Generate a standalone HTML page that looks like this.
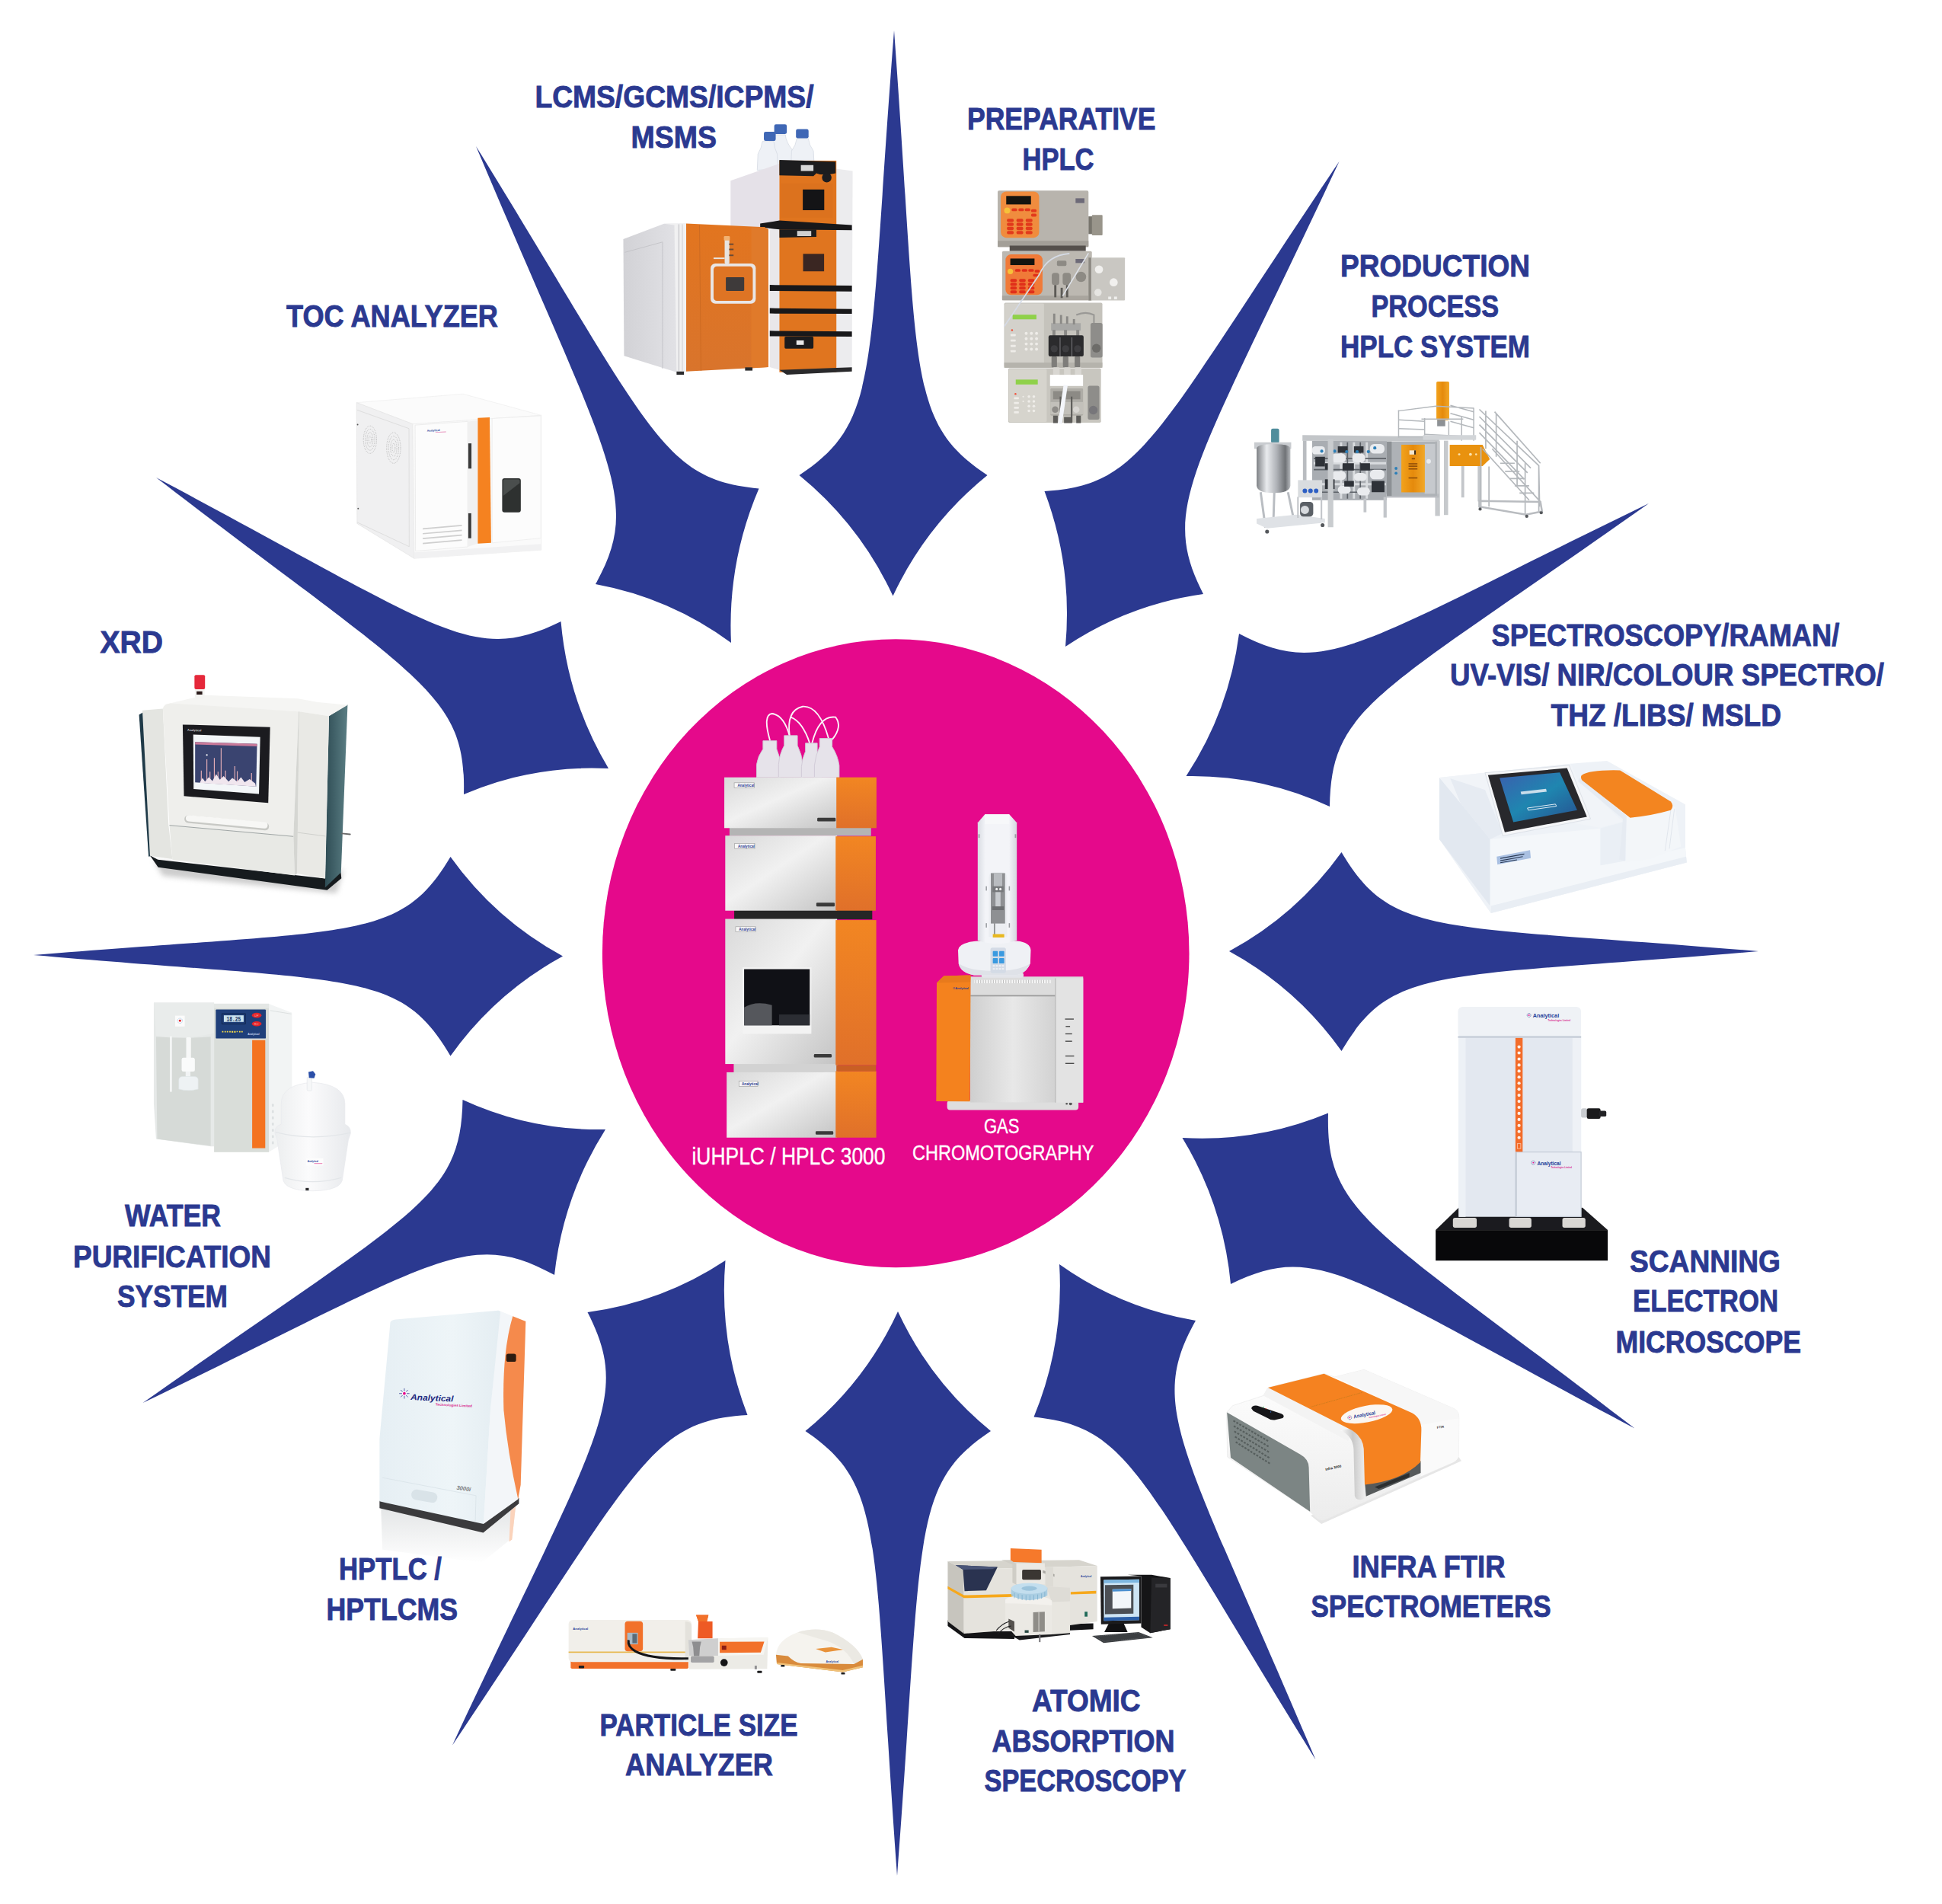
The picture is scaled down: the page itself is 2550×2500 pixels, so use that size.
<!DOCTYPE html>
<html lang="en"><head><meta charset="utf-8"><title>Analytical instruments</title>
<style>html,body{margin:0;padding:0;background:#fff}body{width:2550px;height:2500px;overflow:hidden}svg{display:block}.t{font-family:"Liberation Sans",sans-serif;font-weight:700;font-size:41.5px;fill:#2b3990;stroke:#2b3990;stroke-width:.9px}.w{font-family:"Liberation Sans",sans-serif;font-weight:400;fill:#fff;stroke:#fff;stroke-width:.4px}</style></head><body>
<svg width="2550" height="2500" viewBox="0 0 2550 2500">
<rect width="2550" height="2500" fill="#fff"/>
<g fill="#2b3990">
<path d="M1174.0 40.0 C1207.4 492.2 1189.1 552.2 1296.5 624.0 Q1216.3 689.0 1172.5 782.5 Q1129.2 689.1 1049.5 624.0 C1156.8 552.5 1138.9 492.5 1174.0 40.0Z"/>
<path d="M1758.5 212.0 C1566.7 621.7 1521.5 664.9 1580.0 780.0 Q1481.6 793.7 1399.0 849.0 Q1408.7 743.8 1371.5 645.0 C1499.7 637.4 1512.5 577.8 1758.5 212.0Z"/>
<path d="M2165.0 661.0 C1807.6 913.5 1748.1 926.5 1746.0 1059.0 Q1656.3 1017.3 1557.5 1019.0 Q1613.8 933.5 1627.0 832.0 C1740.7 891.9 1780.0 847.4 2165.0 661.0Z"/>
<path d="M2309.0 1249.0 C1884.9 1285.3 1828.7 1266.1 1761.5 1380.0 Q1702.8 1297.5 1614.0 1249.0 Q1702.7 1201.0 1761.5 1119.0 C1828.7 1232.0 1884.9 1212.9 2309.0 1249.0Z"/>
<path d="M2146.5 1875.5 C1769.8 1675.5 1732.4 1629.3 1616.0 1686.0 Q1606.3 1582.7 1552.5 1494.0 Q1652.0 1499.8 1744.0 1461.5 C1740.6 1594.5 1799.6 1609.5 2146.5 1875.5Z"/>
<path d="M1727.5 2310.5 C1494.7 1934.1 1483.7 1873.9 1357.5 1860.5 Q1397.3 1764.1 1391.0 1660.0 Q1472.0 1717.6 1570.0 1734.0 C1506.5 1847.6 1550.3 1892.5 1727.5 2310.5Z"/>
<path d="M1178.0 2463.0 C1145.0 2010.7 1162.8 1950.8 1057.5 1879.0 Q1136.3 1814.5 1179.0 1722.0 Q1221.9 1814.5 1301.0 1879.0 C1194.7 1950.5 1212.5 2010.6 1178.0 2463.0Z"/>
<path d="M594.0 2291.5 C785.4 1881.5 830.6 1838.3 771.5 1723.0 Q869.8 1709.8 952.5 1655.0 Q943.7 1759.8 981.5 1858.0 C852.7 1865.4 840.1 1925.2 594.0 2291.5Z"/>
<path d="M187.5 1842.0 C545.5 1588.9 604.9 1575.7 607.5 1444.0 Q696.8 1485.1 795.0 1483.0 Q739.5 1570.8 728.0 1674.0 C612.2 1610.8 573.2 1656.1 187.5 1842.0Z"/>
<path d="M44.0 1254.0 C468.0 1218.8 524.1 1238.0 591.5 1125.0 Q650.2 1207.2 739.0 1255.5 Q650.2 1304.0 591.5 1386.5 C524.5 1272.2 468.2 1291.3 44.0 1254.0Z"/>
<path d="M205.0 627.0 C582.1 827.1 619.4 873.5 736.5 816.0 Q745.6 919.7 799.0 1009.0 Q700.1 1004.1 609.0 1043.0 C612.5 909.5 553.3 894.3 205.0 627.0Z"/>
<path d="M625.0 192.0 C857.5 568.6 867.9 629.0 996.5 641.5 Q955.0 738.6 960.0 844.0 Q879.9 785.0 782.0 767.0 C844.5 654.4 801.1 609.4 625.0 192.0Z"/>
</g>
<ellipse cx="1176.2" cy="1251.8" rx="385.3" ry="412.5" fill="#e5098b"/>
<g transform="translate(800,140) scale(0.194286)">
<defs>
<linearGradient id="lc1" x1="0" y1="0" x2="1" y2="0"><stop offset="0" stop-color="#d2d2d6"/><stop offset="1" stop-color="#e4e4e8"/></linearGradient>
<linearGradient id="lc2" x1="0" y1="0" x2="0" y2="1"><stop offset="0" stop-color="#e2751f"/><stop offset="1" stop-color="#d9742c"/></linearGradient>
</defs>
<!-- bottles -->
<g fill="#eef1f6" stroke="#d4d9e2" stroke-width="4">
<path d="M1095 190 Q1090 240 1050 290 L1040 430 L1240 430 L1235 290 Q1195 240 1190 190Z"/>
<path d="M1035 235 Q1030 280 1005 320 L1000 430 L1140 420 L1135 320 Q1115 280 1112 235Z"/>
<path d="M1268 215 Q1262 260 1232 300 L1228 400 L1385 400 L1380 300 Q1350 260 1345 215Z"/>
</g>
<rect x="1115" y="120" width="85" height="65" rx="12" fill="#3f67b5"/>
<rect x="1045" y="170" width="80" height="62" rx="12" fill="#3f67b5"/>
<rect x="1262" y="152" width="85" height="62" rx="12" fill="#3f67b5"/>
<!-- LC stack left white side -->
<path d="M820 500 L1150 385 L1150 830 L820 810Z" fill="#e5e1e8"/>
<path d="M1085 830 L1150 830 L1150 1780 L1085 1760Z" fill="#e9e7ea"/>
<!-- LC stack right white side -->
<path d="M1530 420 L1645 435 L1640 1770 L1530 1795Z" fill="#ececee"/>
<!-- LC orange modules -->
<rect x="1150" y="365" width="385" height="1430" fill="#e0751f"/>
<rect x="1160" y="520" width="350" height="230" fill="#d96f1e" opacity=".6"/>
<path d="M1150 360 L1530 372 L1530 450 Q1440 470 1400 450 L1380 470 L1150 465Z" fill="#1c1c1e"/>
<rect x="1295" y="395" width="85" height="40" fill="#d8d8d8"/>
<circle cx="1470" cy="480" r="32" fill="#1d1d20"/>
<rect x="1308" y="560" width="145" height="140" fill="#141416"/>
<path d="M1020 790 L1150 770 L1640 800 L1640 835 L1150 830 L1020 815Z" fill="#18181a"/>
<path d="M1150 830 L1400 830 L1400 880 L1150 885Z" fill="#1c1c1e"/>
<rect x="1270" y="840" width="95" height="35" fill="#cfcfcf"/>
<rect x="1310" y="995" width="142" height="118" fill="#3a2622"/>
<path d="M1085 1205 L1640 1210 L1640 1250 L1085 1245Z" fill="#18181a"/>
<path d="M1085 1362 L1640 1368 L1640 1400 L1085 1398Z" fill="#18181a"/>
<path d="M1085 1515 L1640 1520 L1640 1555 L1085 1552Z" fill="#18181a"/>
<rect x="1185" y="1555" width="195" height="80" rx="8" fill="#1b1b1d"/>
<rect x="1265" y="1580" width="50" height="30" fill="#e8e8e8"/>
<path d="M1150 1780 L1640 1762 L1640 1790 L1200 1812Z" fill="#2a2a2c"/>
<!-- MS unit -->
<path d="M95 895 L370 792 L520 790 L520 1790 L455 1795 L100 1685Z" fill="url(#lc1)"/>
<path d="M370 792 L520 790 L520 1790 L455 1795 L440 800Z" fill="#f1f1f2"/>
<path d="M105 985 L360 915 L360 1770" fill="none" stroke="#c4c4c8" stroke-width="5"/>
<rect x="465" y="795" width="10" height="990" fill="#d5d5d8"/>
<rect x="490" y="795" width="8" height="990" fill="#d9d9dc"/>
<path d="M520 790 L1050 815 L1075 830 L1075 1760 L520 1790Z" fill="url(#lc2)"/>
<path d="M960 815 L1050 815 L1075 830 L1075 1760 L960 1768Z" fill="#e07a2a"/>
<path d="M610 800 L620 1785" stroke="#cc6a22" stroke-width="5" fill="none"/>
<rect x="685" y="1060" width="305" height="272" rx="32" fill="#e9e6e6"/>
<rect x="705" y="1080" width="265" height="232" rx="22" fill="#de7424"/>
<rect x="788" y="1153" width="124" height="92" rx="6" fill="#3e3a3a"/>
<rect x="780" y="880" width="32" height="180" rx="8" fill="#e8e4e0"/>
<rect x="775" y="875" width="40" height="30" rx="6" fill="#f2b272"/>
<rect x="810" y="925" width="30" height="10" fill="#6a4a36"/><rect x="810" y="960" width="30" height="10" fill="#6a4a36"/><rect x="810" y="1000" width="30" height="10" fill="#6a4a36"/>
<rect x="705" y="1020" width="75" height="10" fill="#e8e4e0"/>
<rect x="455" y="1790" width="50" height="22" fill="#2a2a2c"/><rect x="918" y="1762" width="50" height="22" fill="#2a2a2c"/>
</g>
<g transform="translate(1290,235) scale(0.178571)">
<!-- module 1 -->
<rect x="112" y="85" width="668" height="415" rx="10" fill="#b8b4ad"/>
<rect x="112" y="455" width="668" height="45" fill="#a39f98"/>
<rect x="200" y="490" width="560" height="40" fill="#55504c"/>
<rect x="135" y="92" width="282" height="340" rx="40" fill="#f08c3e"/>
<rect x="175" y="125" width="182" height="62" fill="#15140f"/>
<circle cx="182" cy="232" r="22" fill="#f6c13a"/>
<g fill="#e23a1c">
<rect x="215" y="215" width="40" height="22" rx="9"/><rect x="265" y="215" width="40" height="22" rx="9"/><rect x="312" y="215" width="40" height="22" rx="9"/><rect x="358" y="222" width="40" height="22" rx="9"/><rect x="358" y="255" width="40" height="22" rx="9"/>
<rect x="180" y="292" width="50" height="24" rx="10"/><rect x="250" y="292" width="50" height="24" rx="10"/><rect x="318" y="292" width="50" height="24" rx="10"/>
<rect x="180" y="322" width="50" height="24" rx="10"/><rect x="250" y="322" width="50" height="24" rx="10"/><rect x="318" y="322" width="50" height="24" rx="10"/>
<rect x="180" y="352" width="50" height="24" rx="10"/><rect x="250" y="352" width="50" height="24" rx="10"/><rect x="318" y="352" width="50" height="24" rx="10"/>
<rect x="180" y="382" width="50" height="24" rx="10"/><rect x="250" y="382" width="50" height="24" rx="10"/><rect x="318" y="382" width="50" height="24" rx="10"/>
</g>
<rect x="685" y="142" width="65" height="35" fill="#6d6a78"/>
<rect x="780" y="275" width="30" height="130" fill="#77746c"/>
<rect x="805" y="265" width="78" height="150" rx="6" fill="#99958b"/>
<!-- module 2 -->
<rect x="145" y="530" width="660" height="362" rx="10" fill="#bcb8b1"/>
<rect x="145" y="858" width="660" height="34" fill="#a9a59e"/>
<rect x="780" y="578" width="268" height="315" rx="6" fill="#c9c7c2"/>
<rect x="780" y="578" width="20" height="315" fill="#8c8982"/>
<rect x="170" y="555" width="272" height="298" rx="40" fill="#f07a38"/>
<rect x="205" y="585" width="178" height="48" fill="#15140f"/>
<circle cx="205" cy="680" r="20" fill="#f6c13a"/>
<g fill="#e02f1a">
<rect x="240" y="662" width="40" height="20" rx="9"/><rect x="290" y="662" width="40" height="20" rx="9"/><rect x="338" y="662" width="40" height="20" rx="9"/><rect x="385" y="668" width="36" height="20" rx="9"/><rect x="372" y="698" width="40" height="20" rx="9"/>
<rect x="205" y="735" width="48" height="22" rx="10"/><rect x="270" y="735" width="48" height="22" rx="10"/><rect x="335" y="735" width="48" height="22" rx="10"/>
<rect x="205" y="763" width="48" height="22" rx="10"/><rect x="270" y="763" width="48" height="22" rx="10"/><rect x="335" y="763" width="48" height="22" rx="10"/>
<rect x="205" y="791" width="48" height="22" rx="10"/><rect x="270" y="791" width="48" height="22" rx="10"/><rect x="335" y="791" width="48" height="22" rx="10"/>
<rect x="205" y="819" width="48" height="22" rx="10"/><rect x="270" y="819" width="48" height="22" rx="10"/><rect x="335" y="819" width="48" height="22" rx="10"/>
</g>
<g fill="#8d8a84"><rect x="510" y="690" width="55" height="90" rx="20"/><rect x="590" y="690" width="60" height="90" rx="20"/><circle cx="725" cy="720" r="38"/><rect x="548" y="600" width="70" height="40" rx="10"/></g>
<g fill="#5c5a56"><rect x="528" y="780" width="16" height="90"/><rect x="575" y="800" width="16" height="75"/><rect x="615" y="780" width="16" height="90"/></g>
<rect x="685" y="588" width="65" height="30" fill="#6d6a78"/>
<circle cx="857" cy="665" r="30" fill="#f1f0ee"/><circle cx="965" cy="760" r="30" fill="#f1f0ee"/><circle cx="850" cy="835" r="27" fill="#e6e5e2"/>
<rect x="925" y="865" width="22" height="20" fill="#eeeeec"/><rect x="968" y="865" width="22" height="20" fill="#eeeeec"/>
<!-- module 3 -->
<rect x="160" y="910" width="722" height="478" rx="10" fill="#c5c3bc"/>
<rect x="165" y="915" width="288" height="468" rx="8" fill="#d3d1cb"/>
<rect x="160" y="1350" width="722" height="38" fill="#b5b3ac"/>
<rect x="222" y="998" width="175" height="34" fill="#8fd14a"/>
<g fill="#eeece8"><circle cx="322" cy="1135" r="11"/><circle cx="360" cy="1135" r="11"/><circle cx="398" cy="1135" r="11"/><circle cx="322" cy="1175" r="11"/><circle cx="360" cy="1175" r="11"/><circle cx="398" cy="1175" r="11"/><circle cx="322" cy="1213" r="11"/><circle cx="360" cy="1213" r="11"/><circle cx="398" cy="1213" r="11"/><circle cx="322" cy="1252" r="11"/><circle cx="360" cy="1252" r="11"/><circle cx="398" cy="1252" r="11"/>
<rect x="207" y="1140" width="38" height="16" rx="4"/><rect x="207" y="1180" width="38" height="16" rx="4"/><rect x="207" y="1220" width="38" height="16" rx="4"/><rect x="207" y="1258" width="38" height="16" rx="4"/></g>
<circle cx="218" cy="1112" r="7" fill="#f0503a"/>
<rect x="505" y="1060" width="218" height="55" fill="#a7a7a5"/>
<g fill="#8a8986"><rect x="520" y="990" width="16" height="75"/><rect x="570" y="1000" width="16" height="65"/><rect x="615" y="1010" width="16" height="55"/><rect x="665" y="1030" width="16" height="40"/><rect x="515" y="1110" width="22" height="60"/><rect x="600" y="1110" width="22" height="60"/><rect x="690" y="1110" width="22" height="60"/></g>
<path d="M690 1000 Q760 970 820 1000 L820 1060" fill="none" stroke="#9a9996" stroke-width="12"/>
<rect x="486" y="1150" width="258" height="155" rx="12" fill="#2b2b2d"/>
<rect x="568" y="1165" width="6" height="140" fill="#77767a"/><rect x="655" y="1165" width="6" height="140" fill="#77767a"/>
<circle cx="528" cy="1248" r="26" fill="#3d3d40"/><circle cx="612" cy="1248" r="26" fill="#3d3d40"/><circle cx="700" cy="1248" r="26" fill="#3d3d40"/>
<g fill="#7e7d7a"><rect x="508" y="1305" width="40" height="80" rx="8"/><rect x="592" y="1305" width="40" height="80" rx="8"/><rect x="678" y="1305" width="40" height="80" rx="8"/></g>
<rect x="795" y="1058" width="88" height="255" rx="14" fill="#8e8d8a"/>
<circle cx="838" cy="1245" r="32" fill="#6d6c69"/>
<!-- module 4 -->
<rect x="190" y="1392" width="682" height="400" rx="10" fill="#c8c6bf"/>
<rect x="195" y="1398" width="278" height="388" rx="8" fill="#d6d4cd"/>
<rect x="245" y="1475" width="162" height="36" fill="#8fd14a"/>
<circle cx="243" cy="1580" r="7" fill="#f0503a"/>
<g fill="#efede9"><circle cx="342" cy="1600" r="10"/><circle cx="378" cy="1600" r="10"/><circle cx="300" cy="1600" r="6"/><circle cx="342" cy="1635" r="10"/><circle cx="378" cy="1635" r="10"/><circle cx="300" cy="1635" r="6"/><circle cx="342" cy="1670" r="10"/><circle cx="378" cy="1670" r="10"/><circle cx="342" cy="1705" r="10"/><circle cx="378" cy="1705" r="10"/>
<rect x="232" y="1605" width="36" height="15" rx="4"/><rect x="232" y="1640" width="36" height="15" rx="4"/><rect x="232" y="1675" width="36" height="15" rx="4"/><rect x="232" y="1708" width="36" height="15" rx="4"/></g>
<rect x="500" y="1540" width="240" height="200" rx="8" fill="#aeaca6"/>
<rect x="520" y="1560" width="200" height="60" fill="#8c8a85"/>
<rect x="500" y="1640" width="240" height="90" fill="#c2c0ba"/>
<circle cx="535" cy="1695" r="24" fill="#8e8c88"/><circle cx="690" cy="1695" r="24" fill="#d8d6d2"/>
<g fill="#5d5c59"><rect x="568" y="1600" width="12" height="190"/><rect x="650" y="1600" width="12" height="190"/><rect x="520" y="1740" width="34" height="55"/><rect x="600" y="1750" width="60" height="45"/><rect x="690" y="1740" width="34" height="55"/></g>
<rect x="775" y="1520" width="85" height="250" rx="14" fill="#8e8d8a"/>
<circle cx="815" cy="1700" r="32" fill="#77767a"/>
<g fill="#d9d7d2"><rect x="520" y="1385" width="48" height="60" rx="8"/><rect x="600" y="1385" width="48" height="60" rx="8"/><rect x="680" y="1385" width="48" height="60" rx="8"/></g>
<rect x="497" y="1440" width="243" height="82" fill="#fff"/>
<path d="M612 1515 L570 1800" fill="none" stroke="#f4f6fb" stroke-width="30"/>
<!-- tubes -->
<path d="M780 545 L590 860" fill="none" stroke="#dfe3ea" stroke-width="9"/>
<path d="M640 548 Q480 560 420 700 L160 1085" fill="none" stroke="#d5dbe6" stroke-width="9"/>
</g>
<g transform="translate(1630,490) scale(0.211123)">
<defs>
<linearGradient id="pr1" x1="0" y1="0" x2="1" y2="0"><stop offset="0" stop-color="#7f8286"/><stop offset=".3" stop-color="#e9ebee"/><stop offset=".6" stop-color="#aeb1b6"/><stop offset=".85" stop-color="#6f7276"/><stop offset="1" stop-color="#b9bcc0"/></linearGradient>
<linearGradient id="pr2" x1="0" y1="0" x2="1" y2="0"><stop offset="0" stop-color="#f2a21c"/><stop offset=".5" stop-color="#e58a0c"/><stop offset="1" stop-color="#f2a828"/></linearGradient>
</defs>
<!-- tank -->
<path d="M120 740 L150 960 M290 740 L325 905 M205 740 L200 900" stroke="#b9bdc2" stroke-width="14" fill="none"/>
<path d="M95 905 L340 880 L520 905 L520 930 L160 965 L95 935Z" fill="#dfe2e6"/>
<rect x="185" y="345" width="50" height="90" rx="10" fill="#4f8d9c"/>
<path d="M80 430 L310 430 L310 470 L80 470Z" fill="#c9ccd0"/>
<path d="M95 470 Q95 440 200 440 Q305 440 305 470 L305 700 Q300 745 200 745 Q100 745 95 700Z" fill="url(#pr1)"/>
<circle cx="160" cy="985" r="12" fill="#55585c"/><circle cx="505" cy="945" r="12" fill="#55585c"/>
<!-- pipe cluster -->
<rect x="440" y="420" width="465" height="370" fill="#a9adb2"/>
<g stroke="#d9dcdf" stroke-width="14" fill="none"><path d="M450 560 H900 M450 690 H900 M620 430 V780 M700 430 V780 M780 430 V780"/></g>
<g stroke="#5d6268" stroke-width="8" fill="none"><path d="M450 530 H900 M450 600 H900 M450 740 H800 M660 430 V780 M740 430 V780"/></g>
<g fill="#e9ebee"><rect x="440" y="455" width="80" height="50" rx="20"/><rect x="560" y="500" width="90" height="55" rx="25"/><rect x="690" y="500" width="80" height="55" rx="25"/><rect x="800" y="440" width="90" height="60" rx="25"/><rect x="560" y="610" width="90" height="55" rx="25"/><rect x="700" y="620" width="80" height="50" rx="25"/><rect x="800" y="600" width="90" height="60" rx="25"/><rect x="600" y="700" width="80" height="50" rx="25"/><rect x="720" y="710" width="80" height="50" rx="25"/></g>
<g fill="#2e3238"><rect x="600" y="455" width="60" height="40"/><rect x="700" y="455" width="60" height="40"/><rect x="630" y="560" width="70" height="45"/><rect x="740" y="560" width="60" height="45"/><rect x="640" y="670" width="60" height="35"/><rect x="810" y="670" width="80" height="70"/><rect x="520" y="560" width="40" height="40"/><rect x="460" y="520" width="60" height="60"/><rect x="520" y="660" width="60" height="60"/></g>
<g fill="#2c7fb8"><circle cx="580" cy="485" r="10"/><circle cx="655" cy="488" r="10"/><circle cx="720" cy="488" r="10"/><circle cx="790" cy="488" r="10"/><circle cx="830" cy="465" r="10"/><circle cx="500" cy="485" r="10"/></g>
<!-- frame -->
<path d="M380 385 L1230 395 L1230 425 L380 420Z" fill="#c3c6c9"/>
<rect x="538" y="410" width="34" height="548" fill="#c9cccf"/>
<rect x="383" y="420" width="22" height="250" fill="#b9bcc0"/>
<rect x="760" y="780" width="18" height="85" fill="#c3c6ca"/><rect x="884" y="770" width="20" height="128" fill="#c3c6ca"/>
<rect x="1205" y="420" width="30" height="468" fill="#c6c9cc"/><rect x="1260" y="420" width="26" height="462" fill="#c6c9cc"/>
<rect x="900" y="750" width="330" height="24" fill="#b9bcc0"/>
<!-- small panel + pump -->
<rect x="352" y="665" width="150" height="108" fill="#d9dcdf"/>
<circle cx="395" cy="732" r="14" fill="#2d5fc4"/><circle cx="430" cy="732" r="14" fill="#2d5fc4"/><circle cx="465" cy="732" r="14" fill="#2d5fc4"/>
<path d="M352 770 L352 900 M498 770 L498 910" stroke="#c3c6ca" stroke-width="10"/>
<rect x="365" y="800" width="82" height="92" rx="20" fill="#5b6066"/>
<circle cx="395" cy="850" r="26" fill="#d7dade"/>
<!-- cabinet -->
<rect x="905" y="425" width="312" height="338" fill="#aeb2b6"/>
<rect x="905" y="425" width="30" height="338" fill="#8d9195"/>
<rect x="1140" y="440" width="65" height="310" fill="#c6c9cd"/>
<rect x="995" y="445" width="146" height="296" fill="url(#pr2)"/>
<rect x="1045" y="480" width="40" height="26" fill="#f3e6cf"/><rect x="1075" y="480" width="10" height="26" fill="#3c2a14"/>
<g fill="#8a4a08"><rect x="1040" y="560" width="55" height="7"/><rect x="1040" y="575" width="55" height="7"/><rect x="1040" y="592" width="55" height="7"/><rect x="1040" y="648" width="55" height="7"/><rect x="1060" y="528" width="20" height="8"/></g>
<circle cx="1165" cy="548" r="14" fill="#e9ecef"/>
<circle cx="962" cy="592" r="9" fill="#2c7fb8"/><circle cx="962" cy="622" r="9" fill="#2c7fb8"/>
<!-- orange column & tank -->
<rect x="1213" y="52" width="80" height="240" rx="8" fill="url(#pr2)"/>
<rect x="1218" y="290" width="50" height="40" fill="#8d9195"/>
<path d="M1296 445 L1500 445 L1545 535 L1500 578 L1296 578Z" fill="#e9920f"/>
<circle cx="1355" cy="505" r="7" fill="#fbe2ad"/><circle cx="1425" cy="505" r="9" fill="#fbe2ad"/><circle cx="1460" cy="505" r="6" fill="#fbe2ad"/>
<rect x="1368" y="578" width="18" height="195" fill="#c3c6ca"/><rect x="1470" y="578" width="18" height="220" fill="#c3c6ca"/>
<!-- platform railings -->
<g stroke="#b4b8bc" stroke-width="7" fill="none">
<path d="M978 230 L978 400 M1140 280 L1140 400 M1445 215 L1445 420 M1370 270 L1370 420 M1290 300 L1290 400"/>
<path d="M975 235 L1210 205 L1445 218 M978 290 L1140 300 M978 345 L1140 350 M1120 285 L1380 285 M1300 200 L1445 240 M1300 250 L1445 290 M1300 300 L1445 340 M1140 380 L1445 395 M978 395 L1230 395"/>
</g>
<rect x="1130" y="385" width="330" height="30" fill="#d2d5d8"/>
<!-- stairs -->
<g stroke="#b4b8bc" stroke-width="8" fill="none">
<path d="M1480 225 L1850 575 L1855 830 M1575 240 L1860 560 M1520 235 L1520 470 M1585 250 L1585 520 M1715 420 L1715 700 M1765 560 L1765 880 M1850 575 L1850 860"/>
<path d="M1500 470 L1790 790 M1560 470 L1860 800"/>
<path d="M1480 270 L1800 590 M1480 320 L1780 620 M1480 370 L1760 660"/>
<path d="M1610 560 L1700 560 M1640 610 L1730 610 M1670 655 L1760 655 M1700 700 L1790 700 M1730 745 L1820 745"/>
<path d="M1490 460 L1490 830 M1540 580 L1540 830"/>
</g>
<path d="M1480 795 L1860 800 L1870 860 L1770 880 L1480 830Z" fill="none" stroke="#b9bcc0" stroke-width="12"/>
<circle cx="1485" cy="845" r="10" fill="#55585c"/><circle cx="1775" cy="890" r="10" fill="#55585c"/><circle cx="1865" cy="868" r="10" fill="#55585c"/>
</g>
<g transform="translate(1870,980) scale(0.190525)">
<defs>
<linearGradient id="uv1" x1="0" y1="0" x2="1" y2="1"><stop offset="0" stop-color="#3b5fae"/><stop offset=".5" stop-color="#1f86b0"/><stop offset="1" stop-color="#27508f"/></linearGradient>
</defs>
<path d="M105 215 L1010 120 L1260 100 L1800 400 L1800 700 L1810 800 L460 1150 L410 1080 L105 640Z" fill="#eef2f7"/>
<path d="M105 215 L250 390 L455 640 L455 1100 L105 640Z" fill="#e2e8f0"/>
<path d="M250 390 L1210 560 L1370 520 L1060 230 L1010 120 L105 215Z" fill="#f1f4f8"/>
<path d="M455 640 L1215 565 L1215 820 L1380 790 L1800 700 L1810 800 L460 1150 L455 1100Z" fill="#f4f7fa"/>
<path d="M1215 565 L1380 520 L1380 790 L1215 820Z" fill="#eaeff5"/>
<path d="M460 1100 L1805 760 L1810 800 L460 1150Z" fill="#e9eef4"/>
<path d="M180 220 L420 300 L540 600 L455 640 L250 390Z" fill="#e6ebf2"/>
<!-- screen -->
<path d="M420 182 L1000 130 L1147 500 L542 617Z" fill="#f5f6f8" stroke="#d5dae2" stroke-width="4"/>
<path d="M440 198 L985 150 L1122 485 L556 592Z" fill="#28282c"/>
<path d="M520 218 L935 180 L1055 440 L615 522Z" fill="url(#uv1)"/>
<path d="M712 425 L905 398 L912 412 L718 440Z" fill="none" stroke="#e8f0f8" stroke-width="5"/>
<path d="M665 312 L840 292 L845 312 L670 332Z" fill="#e8eef6" opacity=".85"/>
<!-- right compartment -->
<path d="M1075 215 L1395 480 L1390 800 L1560 775 L1770 690 L1730 420 L1700 400 L1350 170Z" fill="#f3f6f9"/>
<path d="M1075 215 L1395 480 L1385 790 L1345 780 L1370 500 L1060 240Z" fill="#e6ebf2"/>
<path d="M1700 440 L1660 720 M1725 430 L1690 705" stroke="#dfe5ec" stroke-width="5" fill="none"/>
<path d="M1085 200 Q1140 160 1350 165 L1700 380 Q1725 410 1700 440 Q1560 480 1420 492 L1090 235 Q1075 215 1085 200Z" fill="#f38520"/>
<!-- label -->
<path d="M500 760 L730 715 L735 770 L505 815Z" fill="#a9c0e2"/>
<path d="M525 772 L690 742 M525 788 L680 760 M525 802 L640 782" stroke="#2b3a55" stroke-width="6" fill="none"/>
</g>
<g transform="translate(1870,1305) scale(0.189091)">
<!-- base -->
<path d="M80 1640 L240 1485 L1100 1485 L1275 1640Z" fill="#1b1b1f"/>
<rect x="80" y="1640" width="1195" height="212" fill="#08080a"/>
<g fill="#d9d7d4"><rect x="200" y="1555" width="165" height="68" rx="14"/><rect x="590" y="1555" width="155" height="68" rx="14"/><rect x="960" y="1555" width="160" height="68" rx="14"/></g>
<!-- body -->
<rect x="240" y="290" width="850" height="1258" fill="#e3e8f0"/>
<rect x="240" y="290" width="48" height="1258" fill="#edf1f6"/>
<rect x="1030" y="290" width="60" height="810" fill="#eef1f6"/>
<rect x="235" y="90" width="855" height="215" rx="32" fill="#eff2f6"/>
<rect x="235" y="292" width="855" height="14" fill="#c9d0da"/>
<rect x="640" y="1098" width="450" height="448" fill="#e8ecf3" stroke="#c3cad5" stroke-width="6"/>
<rect x="632" y="1098" width="10" height="448" fill="#c3cad5"/>
<!-- LED strip -->
<rect x="634" y="306" width="50" height="790" fill="#f36c2a"/>
<g fill="#fdeee6"><circle cx="659" cy="368" r="11"/><circle cx="659" cy="410" r="11"/><circle cx="659" cy="452" r="11"/><circle cx="659" cy="494" r="11"/><circle cx="659" cy="536" r="11"/><circle cx="659" cy="578" r="11"/><circle cx="659" cy="620" r="11"/><circle cx="659" cy="662" r="11"/><circle cx="659" cy="704" r="11"/><circle cx="659" cy="746" r="11"/><circle cx="659" cy="788" r="11"/><circle cx="659" cy="830" r="11"/><circle cx="659" cy="872" r="11"/><circle cx="659" cy="914" r="11"/><circle cx="659" cy="956" r="11"/><circle cx="659" cy="998" r="11"/></g>
<rect x="647" y="1040" width="24" height="34" fill="none" stroke="#fbd0b8" stroke-width="4"/>
<!-- knob -->
<rect x="1090" y="795" width="45" height="65" rx="14" fill="#c9ccd0"/>
<rect x="1130" y="795" width="95" height="72" rx="12" fill="#1a1a1c"/>
<rect x="1215" y="812" width="50" height="40" rx="10" fill="#222226"/>
<!-- logos -->
<circle cx="728" cy="148" r="13" fill="none" stroke="#2b3990" stroke-width="4" stroke-dasharray="4 3"/><circle cx="728" cy="148" r="5" fill="#e5098b"/>
<text x="755" y="166" font-family="Liberation Sans,sans-serif" font-weight="700" font-size="36" fill="#1f3f99" textLength="182" lengthAdjust="spacingAndGlyphs">Analytical</text>
<text x="860" y="192" font-family="Liberation Sans,sans-serif" font-weight="700" font-size="15" fill="#d9268e" textLength="155" lengthAdjust="spacingAndGlyphs">Technologies Limited</text>
<circle cx="758" cy="1172" r="13" fill="none" stroke="#2b3990" stroke-width="4" stroke-dasharray="4 3"/><circle cx="758" cy="1172" r="5" fill="#e5098b"/>
<text x="785" y="1190" font-family="Liberation Sans,sans-serif" font-weight="700" font-size="36" fill="#1f3f99" textLength="165" lengthAdjust="spacingAndGlyphs">Analytical</text>
<text x="880" y="1212" font-family="Liberation Sans,sans-serif" font-weight="700" font-size="14" fill="#d9268e" textLength="145" lengthAdjust="spacingAndGlyphs">Technologies Limited</text>
</g>
<g transform="translate(1595,1780) scale(0.175077)">
<defs>
<linearGradient id="ft1" x1="0" y1="0" x2="1" y2="0"><stop offset="0" stop-color="#fdfdfd"/><stop offset=".5" stop-color="#c9c9c9"/><stop offset="1" stop-color="#efefef"/></linearGradient>
<linearGradient id="ft2" x1="0" y1="0" x2="0" y2="1"><stop offset="0" stop-color="#ffffff"/><stop offset="1" stop-color="#ececec"/></linearGradient>
</defs>
<path d="M720 1200 L800 1262 L1850 790 L1830 760Z" fill="#e6e6e6"/>
<!-- body -->
<path d="M135 375 L365 300 L400 240 L820 135 L900 160 L1120 105 L1800 400 Q1835 420 1832 470 L1830 740 Q1830 780 1790 800 L830 1230 Q790 1245 760 1215 L715 1170 L95 760 L90 425Z" fill="url(#ft2)" stroke="#e9e9e9" stroke-width="4"/>
<path d="M900 160 L1120 105 L1800 400 Q1835 420 1832 470 L1540 520 L1480 430Z" fill="#f7f7f7"/>
<path d="M1545 520 L1832 470 L1830 740 Q1830 780 1790 800 L1545 905Z" fill="#fafafa"/>
<path d="M365 300 L400 240 L1040 560 L1000 640Z" fill="#f3f3f3"/>
<!-- gray side -->
<path d="M92 425 L640 740 Q705 775 706 840 L715 1170 L120 765Z" fill="#7c8584"/>
<g stroke="#565e5d" stroke-width="12" stroke-dasharray="16 10" fill="none">
<path d="M140 488 L400 640"/><path d="M143 528 L405 682"/><path d="M147 568 L410 725"/><path d="M152 608 L412 768"/><path d="M158 648 L415 810"/>
</g>
<!-- black control -->
<path d="M275 395 Q280 370 320 375 L500 435 Q530 450 510 468 L450 482 Q420 485 400 470 L290 415Z" fill="#17171a"/>
<circle cx="365" cy="385" r="4" fill="#3bd05a"/><circle cx="385" cy="398" r="4" fill="#e23a2a"/><circle cx="420" cy="422" r="4" fill="#3a7ae2"/>
<!-- silver rim -->
<path d="M940 560 Q1035 600 1042 700 L1050 1050 Q1055 1085 1100 1080 L1130 1070 L1118 700 Q1110 610 1030 545Z" fill="url(#ft1)"/>
<!-- dark recess -->
<path d="M1125 940 L1545 790 L1545 880 L1135 1055Z" fill="#565a5b"/>
<path d="M1200 985 L1460 880 L1460 910 L1230 1000Z" fill="#2c2f30"/>
<!-- orange -->
<path d="M400 240 L820 135 L1480 430 Q1552 470 1550 560 L1542 800 Q1400 940 1125 968 L1118 700 Q1110 610 1030 560Z" fill="#f58220"/>
<path d="M720 385 L1110 275" stroke="#a8741a" stroke-width="3" stroke-dasharray="8 5" fill="none"/>
<!-- logo -->
<ellipse cx="1140" cy="438" rx="196" ry="62" transform="rotate(-11 1140 438)" fill="#fbf6f1"/>
<g transform="rotate(-11 1140 438)">
<circle cx="1010" cy="440" r="14" fill="none" stroke="#2b3990" stroke-width="4" stroke-dasharray="4 3"/><circle cx="1010" cy="440" r="5" fill="#e5098b"/>
<text x="1040" y="452" font-family="Liberation Sans,sans-serif" font-weight="700" font-size="38" fill="#1f3f99" textLength="165" lengthAdjust="spacingAndGlyphs">Analytical</text>
<text x="1150" y="472" font-family="Liberation Sans,sans-serif" font-weight="700" font-size="15" fill="#d9268e" textLength="130" lengthAdjust="spacingAndGlyphs">Technologies Limited</text>
</g>
<text x="832" y="862" font-family="Liberation Sans,sans-serif" font-weight="700" font-size="26" fill="#222" transform="rotate(-12 832 862)">Infra 3000</text>
<text x="1668" y="548" font-family="Liberation Sans,sans-serif" font-weight="700" font-size="24" fill="#444" transform="rotate(-8 1668 548)">FTIR</text>
</g>
<g transform="translate(1230,2010) scale(0.169928)">
<!-- black base -->
<path d="M85 690 L210 780 L600 775 L600 835 L215 830 L85 735Z" fill="#141416"/>
<path d="M1030 720 L1210 715 L1210 760 L1030 770Z" fill="#141416"/>
<path d="M560 800 L1030 770 L1030 800 L640 845Z" fill="#1a1a1c"/>
<!-- main body -->
<path d="M85 235 L1100 225 L1240 270 L210 300Z" fill="#d6d4cd"/>
<path d="M85 235 L210 300 L210 795 L85 700Z" fill="#c7c5be"/>
<path d="M210 300 L1240 270 L1240 700 L1030 730 L210 795Z" fill="#e5e3dd"/>
<path d="M85 428 L210 498 L590 488 L590 510 L210 520 L85 448Z" fill="#f6a81c"/>
<path d="M1035 472 L1232 463 L1232 485 L1035 492Z" fill="#f6a81c"/>
<path d="M145 265 L470 280 L382 460 L215 466 L203 300Z" fill="#2a3350"/>
<path d="M145 265 L470 280 L430 295 L205 300Z" fill="#4a5578"/>
<rect x="1143" y="625" width="22" height="38" fill="#1f6a58"/>
<text x="1112" y="360" font-family="Liberation Sans,sans-serif" font-weight="700" font-size="18" fill="#1f3f99">Analytical</text>
<!-- orange box -->
<path d="M570 135 L810 145 L810 248 L570 240Z" fill="#f6792b"/>
<path d="M500 225 L570 225 L620 260 L620 420 L585 400 L585 260Z" fill="#cfcdc6"/>
<!-- burner compartment -->
<path d="M615 250 L835 250 L835 412 L615 412Z" fill="#ebe9e4"/>
<rect x="660" y="300" width="146" height="78" rx="10" fill="#3a3632"/>
<path d="M820 305 L910 335 L910 355 L820 325Z" fill="#a9a7a2"/>
<rect x="840" y="280" width="60" height="160" fill="#dddbd5"/>
<!-- right box -->
<path d="M845 430 L1030 440 L1030 790 L890 800 L845 540Z" fill="#e8e6e0"/>
<path d="M845 430 L1030 440 L1030 545 L890 550Z" fill="#dedcd6"/>
<!-- autosampler -->
<path d="M530 530 L890 540 L890 800 L610 812 L530 725Z" fill="#ebe9e4"/>
<path d="M530 530 Q560 500 700 500 Q850 500 890 540 L890 575 Q700 560 530 560Z" fill="#f3f1ed"/>
<path d="M575 440 L575 500 Q715 570 855 500 L855 440Z" fill="#a4cbe2" opacity=".9"/>
<ellipse cx="715" cy="445" rx="140" ry="42" fill="#c3deee"/>
<ellipse cx="715" cy="445" rx="60" ry="18" fill="#9cc4dc"/>
<g stroke="#7fb0cf" stroke-width="5"><path d="M600 480 L600 520 M630 490 L630 530 M660 495 L660 535 M690 498 L690 538 M720 498 L720 538 M750 497 L750 537 M780 492 L780 532 M810 484 L810 524 M835 472 L835 510"/></g>
<path d="M745 630 L835 625 L835 778 L745 782Z" fill="#8f8d88"/>
<rect x="786" y="628" width="6" height="150" fill="#d9d7d1"/>
<path d="M555 680 L600 700 L600 780 L555 750Z" fill="#55524e"/>
<rect x="680" y="768" width="30" height="20" fill="#2a4a44"/>
<rect x="790" y="800" width="12" height="60" fill="#77757a"/>
<path d="M460 770 Q500 720 560 700 M470 800 Q520 740 575 735" stroke="#1d1d1f" stroke-width="6" fill="none"/>
<!-- PC tower -->
<path d="M1475 340 L1660 340 L1805 365 L1805 760 L1650 790 L1580 745 L1580 350Z" fill="#151517"/>
<path d="M1660 362 L1805 367 L1805 760 L1650 790Z" fill="#242427"/>
<rect x="1690" y="410" width="90" height="28" fill="#3a3a3e"/>
<rect x="1755" y="725" width="30" height="10" fill="#c4262a"/>
<!-- monitor -->
<path d="M1330 715 L1445 715 L1475 782 L1295 782Z" fill="#111113"/>
<path d="M1265 355 L1580 350 L1580 715 L1270 722Z" fill="#1b1b1d"/>
<path d="M1290 380 L1565 375 L1565 690 L1292 696Z" fill="#cde4f4"/>
<path d="M1290 380 L1565 375 L1565 400 L1290 405Z" fill="#7db6e0"/>
<path d="M1292 670 L1565 664 L1565 690 L1292 696Z" fill="#2b5fa8"/>
<path d="M1300 420 L1520 416 L1520 640 L1300 645Z" fill="#4b4f55"/>
<path d="M1358 452 L1502 448 L1502 598 L1358 602Z" fill="#f2f6fa"/>
<path d="M1358 452 L1502 448 L1502 465 L1358 469Z" fill="#4a8fd0"/>
<!-- keyboard -->
<path d="M1200 812 L1560 782 L1670 826 L1290 866Z" fill="#3b3e41"/>
<path d="M1225 815 L1555 790 L1640 824 L1295 855Z" fill="none" stroke="#5d6064" stroke-width="4" stroke-dasharray="10 5"/>
</g>
<g transform="translate(735,2090) scale(0.211123)">
<!-- main long body -->
<rect x="68" y="420" width="732" height="58" rx="8" fill="#f2712a"/>
<rect x="55" y="175" width="765" height="262" rx="26" fill="#f1efea"/>
<rect x="55" y="372" width="750" height="8" fill="#e7b84c"/>
<path d="M780 185 Q820 185 820 215 L820 405 L800 430 L780 430Z" fill="#e4e2dc"/>
<rect x="405" y="183" width="112" height="188" rx="18" fill="#f2712a"/>
<rect x="420" y="255" width="66" height="72" fill="#a9b8c4"/>
<rect x="452" y="262" width="28" height="58" fill="#5b6b78"/>
<rect x="118" y="460" width="34" height="16" rx="5" fill="#1c1c1e"/><rect x="688" y="478" width="34" height="14" rx="5" fill="#1c1c1e"/>
<text x="82" y="235" font-family="Liberation Sans,sans-serif" font-weight="700" font-size="20" fill="#1f3f99">Analytical</text>
<!-- hopper -->
<path d="M848 145 L925 145 L915 185 L950 185 L950 290 L858 290 L862 185Z" fill="#ee5a24"/>
<path d="M848 145 L925 145 L915 185 L862 185Z" fill="#f2712a"/>
<!-- middle unit -->
<path d="M800 300 L985 290 L1295 285 L1290 480 L805 482Z" fill="#ecebe6"/>
<path d="M800 300 L985 290 L985 398 L805 398Z" fill="#cfcfcf"/>
<path d="M985 290 L1295 285 L1268 392 L985 398Z" fill="#f6f5f1"/>
<path d="M995 312 L1272 310 L1250 378 L995 380Z" fill="#f2712a"/>
<rect x="1008" y="335" width="28" height="26" fill="#8c1d14"/>
<path d="M822 310 L880 310 L872 345 L868 400 L834 400 L830 345Z" fill="#8e8e90"/>
<rect x="815" y="400" width="145" height="40" rx="8" fill="#a3a3a5"/>
<circle cx="1022" cy="441" r="23" fill="#151517"/>
<rect x="1212" y="460" width="14" height="22" fill="#8e8e90"/>
<rect x="1228" y="492" width="30" height="14" rx="5" fill="#1c1c1e"/>
<!-- hose -->
<path d="M428 300 Q420 340 470 370 Q560 420 800 415" fill="none" stroke="#141416" stroke-width="14"/>
<!-- right unit -->
<path d="M1345 395 Q1350 300 1480 252 Q1600 215 1700 255 Q1850 330 1885 420 L1885 470 L1760 500 L1350 450Z" fill="#f5f3ee"/>
<path d="M1480 252 Q1600 215 1700 255 Q1850 330 1885 420 L1830 450 Q1780 340 1640 300 Q1540 270 1480 252Z" fill="#ebe9e3"/>
<path d="M1345 392 L1420 400 Q1460 440 1500 445 L1830 450 L1885 420 L1885 470 L1760 500 L1350 450Z" fill="#d98b3c"/>
<path d="M1350 440 L1760 488 L1885 458 L1885 470 L1760 500 L1350 450Z" fill="#f0c27a"/>
<path d="M1592 355 L1690 345 L1762 360 L1652 376Z" fill="#e8923a"/>
<rect x="1375" y="455" width="24" height="12" rx="4" fill="#1c1c1e"/><rect x="1750" y="502" width="24" height="12" rx="4" fill="#1c1c1e"/>
<text x="1655" y="442" font-family="Liberation Sans,sans-serif" font-weight="700" font-size="17" fill="#1f3f99">Analytical</text>
</g>
<g transform="translate(470,1700) scale(0.189107)">
<defs>
<linearGradient id="hp1" x1="0" y1="0" x2="0" y2="1"><stop offset="0" stop-color="#e3e5e6"/><stop offset="1" stop-color="#ffffff"/></linearGradient>
<linearGradient id="hp2" x1="0" y1="0" x2="1" y2="0"><stop offset="0" stop-color="#e6eff4"/><stop offset=".6" stop-color="#eef5f8"/><stop offset="1" stop-color="#e4edf2"/></linearGradient>
</defs>
<!-- reflection -->
<path d="M160 1480 L870 1650 L1095 1470 L1070 1690 L860 1860 L170 1770Z" fill="url(#hp1)"/>
<path d="M1095 1470 L1070 1700 L1050 1715 L1060 1500Z" fill="#fbd3bb"/>
<!-- base -->
<path d="M150 1430 L870 1585 L1118 1410 L1118 1450 L870 1652 L150 1482Z" fill="#3b3b3d"/>
<!-- side -->
<path d="M985 112 L1075 150 L1165 185 L1130 1320 L1112 1420 L872 1592 L920 800Z" fill="#f3f6f9"/>
<path d="M1075 150 L1165 185 L1130 1320 L1112 1420 Q1040 1100 1012 800 Q1000 400 1075 150Z" fill="#f58a4c"/>
<rect x="1030" y="410" width="68" height="56" rx="14" fill="#2c1b10"/>
<!-- front -->
<path d="M225 190 Q232 176 262 172 L972 110 Q992 108 988 132 L920 800 L872 1592 L150 1435 L150 1000Z" fill="url(#hp2)"/>
<path d="M170 1270 L820 1395 L815 1570" fill="none" stroke="#dbe5ea" stroke-width="5"/>
<rect x="370" y="1362" width="182" height="72" rx="34" transform="rotate(10 460 1398)" fill="#d9e3e8"/>
<!-- logo -->
<g stroke="#2b3990" stroke-width="4"><path d="M322 650 L322 722 M286 686 L358 686 M297 661 L347 711 M347 661 L297 711"/></g>
<circle cx="322" cy="686" r="16" fill="#fff"/><circle cx="322" cy="686" r="10" fill="#e5098b"/>
<text x="365" y="730" font-family="Liberation Sans,sans-serif" font-weight="700" font-style="italic" font-size="58" fill="#1e2a80" textLength="298" lengthAdjust="spacingAndGlyphs" transform="rotate(2.5 365 730)">Analytical</text>
<text x="538" y="770" font-family="Liberation Sans,sans-serif" font-weight="700" font-size="24" fill="#d9268e" textLength="255" lengthAdjust="spacingAndGlyphs" transform="rotate(2.5 538 770)">Technologies Limited</text>
<text x="683" y="1352" font-family="Liberation Sans,sans-serif" font-weight="700" font-style="italic" font-size="40" fill="#77797c" transform="rotate(8 683 1352)">3000i</text>
</g>
<g transform="translate(190,1300) scale(0.149331)">
<defs>
<linearGradient id="wt1" x1="0" y1="0" x2="1" y2="0"><stop offset="0" stop-color="#eceeef"/><stop offset=".45" stop-color="#fbfbfc"/><stop offset="1" stop-color="#e7e9ec"/></linearGradient>
</defs>
<!-- right side -->
<path d="M1090 120 L1295 200 L1295 1300 L1090 1425Z" fill="#f2f4f4"/>
<path d="M1105 180 L1290 210" stroke="#d5d9da" stroke-width="5"/>
<g fill="#dde1e2"><rect x="1118" y="1000" width="18" height="26" rx="8"/><rect x="1118" y="1055" width="18" height="26" rx="8"/><rect x="1118" y="1110" width="18" height="26" rx="8"/><rect x="1118" y="1165" width="18" height="26" rx="8"/><rect x="1118" y="1220" width="18" height="26" rx="8"/><rect x="1118" y="1275" width="18" height="26" rx="8"/><rect x="1118" y="1330" width="18" height="26" rx="8"/></g>
<!-- left section -->
<path d="M80 110 L610 110 L610 1375 L580 1375 L100 1310 L80 1000Z" fill="#e6e9e8"/>
<path d="M100 410 Q340 430 580 410 L580 1370 L110 1310Z" fill="#d6dad7"/>
<path d="M80 110 L610 110 L610 380 Q340 440 100 400Z" fill="#e9eceb"/>
<rect x="268" y="225" width="84" height="95" fill="#fbfbfb"/><circle cx="310" cy="270" r="22" fill="none" stroke="#7fb6e6" stroke-width="5" stroke-dasharray="5 5"/><circle cx="310" cy="270" r="10" fill="#e5252a"/>
<rect x="222" y="405" width="17" height="490" rx="6" fill="#f7f8f8"/>
<rect x="365" y="415" width="42" height="190" rx="8" fill="#f7f8f8"/>
<rect x="325" y="595" width="116" height="122" rx="16" fill="#fafbfb"/>
<rect x="360" y="715" width="42" height="70" fill="#f1f3f4"/>
<path d="M300 790 Q300 760 340 760 L430 760 Q470 760 470 790 L470 870 Q385 895 300 870Z" fill="#eef2f4" stroke="#dfe5e8" stroke-width="4"/>
<!-- front panel -->
<rect x="610" y="120" width="482" height="1305" fill="#d9ddd9"/>
<rect x="610" y="120" width="482" height="40" fill="#e4e7e5"/>
<rect x="945" y="440" width="115" height="950" fill="#f47320"/>
<rect x="625" y="170" width="440" height="256" rx="8" fill="#1f3f7a"/>
<rect x="680" y="208" width="205" height="90" fill="none" stroke="#0f2348" stroke-width="6"/>
<rect x="696" y="222" width="174" height="58" fill="#c9e2ee"/>
<text x="720" y="272" font-family="Liberation Mono,monospace" font-weight="700" font-size="56" fill="#16305a" textLength="125" lengthAdjust="spacingAndGlyphs">18.25</text>
<ellipse cx="985" cy="222" rx="42" ry="22" fill="#e5252a"/><ellipse cx="985" cy="296" rx="42" ry="22" fill="#e5252a"/>
<text x="965" y="232" font-family="Liberation Sans,sans-serif" font-size="26" fill="#f6b0a8">UP</text>
<text x="963" y="306" font-family="Liberation Sans,sans-serif" font-size="26" fill="#f6b0a8">RO</text>
<g fill="#f2d84a"><rect x="680" y="360" width="12" height="12"/><rect x="702" y="360" width="12" height="12"/><rect x="722" y="360" width="12" height="12"/><rect x="744" y="360" width="12" height="12"/><rect x="764" y="360" width="14" height="14"/><rect x="786" y="360" width="14" height="14"/><rect x="808" y="360" width="10" height="10"/><rect x="830" y="360" width="12" height="12"/><rect x="850" y="360" width="12" height="12"/></g>
<text x="905" y="392" font-family="Liberation Sans,sans-serif" font-weight="700" font-size="22" fill="#c9d6ee">Analytical</text>
<!-- tank -->
<path d="M1200 1000 Q1200 830 1475 812 Q1760 830 1760 1000 L1760 1180 Q1815 1200 1810 1260 L1790 1320 L1740 1650 Q1740 1762 1475 1766 Q1215 1762 1215 1650 L1165 1320 L1145 1255 Q1140 1195 1200 1180Z" fill="url(#wt1)" stroke="#e8eaed" stroke-width="5"/>
<path d="M1150 1250 Q1470 1330 1805 1255" fill="none" stroke="#e3e6e9" stroke-width="8"/>
<path d="M1230 1650 Q1470 1720 1730 1650" fill="none" stroke="#e3e6e9" stroke-width="8"/>
<rect x="1428" y="765" width="42" height="120" rx="10" fill="#f6f7f8" stroke="#e1e4e8" stroke-width="4"/>
<path d="M1440 720 L1480 712 L1502 740 L1490 775 L1445 772Z" fill="#2b4fa8"/>
<rect x="1420" y="1480" width="150" height="62" fill="#fdfdfd"/>
<text x="1432" y="1512" font-family="Liberation Sans,sans-serif" font-weight="700" font-size="20" fill="#1f3f99">Analytical</text>
<rect x="1490" y="1522" width="72" height="6" fill="#e86aa8"/>
<rect x="1415" y="1740" width="28" height="22" fill="#2a2a2c"/>
</g>
<g transform="translate(165,870) scale(0.162815)">
<defs>
<linearGradient id="xr1" x1="0" y1="0" x2="1" y2="0"><stop offset="0" stop-color="#2f4d55"/><stop offset="1" stop-color="#5b7e84"/></linearGradient>
<filter id="xrs" x="-10%" y="-10%" width="120%" height="130%"><feGaussianBlur stdDeviation="22"/></filter>
</defs>
<path d="M230 1600 L1620 1770 L1760 1660 L1700 1860 L300 1720Z" fill="#9a9a9a" opacity=".5" filter="url(#xrs)"/>
<!-- dark base & side -->
<path d="M196 1555 L260 1589 L1608 1741 L1735 1690 L1740 1740 L1625 1835 L262 1650Z" fill="#161b1e"/>
<path d="M1640 430 L1790 340 L1737 1692 L1608 1815Z" fill="url(#xr1)"/>
<path d="M108 420 L140 400 L205 1560 L185 1565Z" fill="#1f3a48"/>
<!-- body -->
<path d="M310 340 L640 262 L1390 290 L1540 318 L1790 342 L1640 432 L1395 395Z" fill="#f5f5f3"/>
<path d="M135 385 L300 372 L345 1300 L377 1585 L196 1558Z" fill="#e4e5e1"/>
<path d="M300 372 Q305 335 360 328 L1395 395 L1353 1402 L353 1312Z" fill="#efefec"/>
<path d="M353 1312 L1353 1402 L1363 1716 L377 1589Z" fill="#e8e9e5"/>
<path d="M353 1312 L1353 1402" stroke="#8d9494" stroke-width="5"/>
<path d="M1400 395 L1640 432 L1608 1741 L1383 1701Z" fill="#e9e9e5"/>
<path d="M1385 1370 L1612 1400" stroke="#c9cac6" stroke-width="5"/>
<path d="M1395 395 L1400 395 L1383 1701 L1363 1716 L1353 1402Z" fill="#d5d6d2"/>
<!-- screen -->
<path d="M460 500 L1165 520 L1150 1132 L470 1076Z" fill="#1b1b1f"/>
<path d="M545 580 L1085 600 L1075 1060 L548 1020Z" fill="#f3f6f8"/>
<path d="M560 640 L1060 656 L1052 1000 L560 966Z" fill="#3a4470"/>
<path d="M560 640 L1060 656 L1060 676 L560 660Z" fill="#c97a9a"/>
<g stroke="#e8b0b8" stroke-width="7" fill="none"><path d="M610 965 L610 870 M655 968 L655 780 M715 972 L715 770 M770 976 L770 690 M745 974 L745 880 M880 985 L880 835 M900 986 L900 875 M1015 994 L1015 890 M680 970 L680 880 M805 980 L805 870"/></g>
<path d="M600 965 L620 930 L640 960 L670 925 L700 955 L730 900 L760 945 L790 915 L830 960 L860 930 L900 960 L930 925 L960 965 L1000 940 L1045 975 L1050 1000 L600 970Z" fill="#f0e6ee"/>
<circle cx="655" cy="745" r="7" fill="#fff"/>
<text x="498" y="552" font-family="Liberation Sans,sans-serif" font-weight="700" font-size="24" fill="#d0d0d4" transform="rotate(1.6 498 552)">Analytical</text>
<!-- handle -->
<path d="M505 1262 L1125 1322" stroke="#c8c9c5" stroke-width="62" stroke-linecap="round"/>
<path d="M510 1255 L1120 1312" stroke="#f7f7f5" stroke-width="50" stroke-linecap="round"/>
<!-- beacon -->
<rect x="558" y="205" width="78" height="88" rx="6" fill="#f4f4f2"/>
<rect x="572" y="232" width="46" height="26" fill="#2a1a1a"/>
<rect x="555" y="100" width="85" height="115" rx="12" fill="#e5283a"/>
<!-- side knob -->
<path d="M1745 1378 L1810 1385" stroke="#6a6a6a" stroke-width="12" stroke-linecap="round"/>
</g>
<g transform="translate(455,505) scale(0.139032)">
<!-- top, side, front -->
<path d="M95 170 L1100 88 L1840 290 L625 372Z" fill="#fbfbfb" stroke="#eeeeee" stroke-width="5"/>
<path d="M95 170 L625 372 L640 1642 L100 1312Z" fill="#f0f0f1" stroke="#e4e4e4" stroke-width="5"/>
<path d="M100 240 L590 415 L592 1530 L100 1300" fill="none" stroke="#dadada" stroke-width="6"/>
<path d="M625 372 L1840 290 L1840 1562 L640 1642Z" fill="#fafafa" stroke="#ececec" stroke-width="5"/>
<path d="M640 1585 L1840 1505 L1840 1562 L640 1642Z" fill="#f1f1f2"/>
<path d="M648 382 L1145 348 L1145 1532 L652 1572Z" fill="#fcfcfc" stroke="#e6e6e6" stroke-width="5"/>
<path d="M1145 348 L1240 340 L1240 1500 L1145 1532Z" fill="#f0f0f0"/>
<path d="M1375 320 L1835 295 L1835 1450 L1375 1495Z" fill="#fcfcfc" stroke="#ebebeb" stroke-width="5"/>
<!-- vents -->
<g fill="none" stroke="#b5b5b5" stroke-width="7" stroke-dasharray="7 9">
<ellipse cx="222" cy="520" rx="62" ry="130"/><ellipse cx="222" cy="520" rx="45" ry="100"/><ellipse cx="222" cy="520" rx="28" ry="68"/><ellipse cx="222" cy="520" rx="12" ry="35"/>
<ellipse cx="445" cy="598" rx="66" ry="145"/><ellipse cx="445" cy="598" rx="48" ry="112"/><ellipse cx="445" cy="598" rx="30" ry="78"/><ellipse cx="445" cy="598" rx="14" ry="42"/>
</g>
<circle cx="105" cy="378" r="7" fill="#555"/><circle cx="110" cy="1170" r="7" fill="#555"/>
<!-- slots -->
<rect x="1150" y="555" width="30" height="238" fill="#3a3a3a"/><rect x="1150" y="1215" width="28" height="236" fill="#3a3a3a"/>
<!-- orange -->
<path d="M1240 315 L1352 310 L1366 1495 L1240 1502Z" fill="#f58220"/>
<!-- window -->
<rect x="1470" y="885" width="176" height="322" rx="22" fill="#2e3130"/>
<path d="M1480 1050 L1636 930 L1636 905 Q1630 895 1620 895 L1490 895 Q1480 898 1480 910Z" fill="#4a4e4d"/>
<!-- bottom vents -->
<g stroke="#cfcfcf" stroke-width="12"><path d="M720 1362 L1090 1330 M720 1408 L1090 1376 M720 1454 L1090 1422 M720 1500 L1090 1468"/></g>
<text x="760" y="445" font-family="Liberation Sans,sans-serif" font-weight="700" font-size="26" fill="#1f3f99" transform="rotate(-3 760 445)">Analytical</text>
<rect x="840" y="448" width="100" height="6" fill="#e58ab8" transform="rotate(-3 840 448)"/>
</g>
<g transform="translate(930,920) scale(0.309789)">
<defs>
<linearGradient id="hl1" x1="0" y1="0" x2="1" y2="1"><stop offset="0" stop-color="#d9d9d9"/><stop offset=".45" stop-color="#f1f1f1"/><stop offset="1" stop-color="#c4c4c4"/></linearGradient>
<linearGradient id="hl2" x1="0" y1="0" x2="0" y2="1"><stop offset="0" stop-color="#f28622"/><stop offset="1" stop-color="#e0702a"/></linearGradient>
</defs>
<!-- tubing -->
<g fill="none" stroke="#fbf3f8" stroke-width="6"><path d="M262 170 Q230 60 270 55 Q320 60 345 150"/><path d="M345 150 Q330 40 400 25 Q470 20 510 160"/><path d="M430 180 Q400 90 350 70"/><path d="M440 180 Q470 60 540 70 Q570 110 525 165"/></g>
<!-- bottles -->
<g fill="#e6e3ea" stroke="#cfc9d6" stroke-width="3">
<path d="M232 170 L290 170 L290 205 Q305 240 305 270 L305 325 L205 325 L205 270 Q210 235 232 205Z"/>
<path d="M322 148 L378 148 L378 190 Q398 230 400 270 L400 325 L298 325 L298 270 Q302 225 322 190Z"/>
<path d="M412 180 L462 180 L462 215 Q478 245 480 280 L480 325 L395 325 L395 280 Q398 245 412 215Z"/>
<path d="M472 160 L525 160 L525 195 Q550 235 555 275 L555 325 L450 325 L450 275 Q455 230 472 195Z"/>
</g>
<!-- modules -->
<rect x="90" y="535" width="600" height="38" fill="#b4b4b4"/>
<rect x="110" y="885" width="585" height="42" fill="#262626"/>
<rect x="108" y="1538" width="440" height="40" fill="#d2d2d2"/>
<rect x="68" y="325" width="478" height="215" fill="url(#hl1)"/><rect x="543" y="325" width="170" height="215" fill="url(#hl2)"/>
<rect x="72" y="572" width="474" height="318" fill="url(#hl1)"/><rect x="540" y="575" width="170" height="315" fill="url(#hl2)"/>
<rect x="72" y="925" width="474" height="615" fill="url(#hl1)"/><rect x="540" y="930" width="172" height="615" fill="url(#hl2)"/>
<rect x="78" y="1575" width="468" height="277" fill="url(#hl1)"/><rect x="540" y="1570" width="172" height="282" fill="url(#hl2)"/>
<rect x="543" y="1545" width="168" height="26" fill="#c95f24"/>
<!-- window -->
<rect x="145" y="1130" width="292" height="282" fill="#f3f3f3"/>
<rect x="152" y="1138" width="278" height="238" fill="#101116"/>
<path d="M152 1300 Q200 1270 270 1290 L270 1376 L152 1376Z" fill="#55575c"/>
<rect x="300" y="1330" width="130" height="46" fill="#2b2d33"/>
<!-- small labels -->
<g fill="#f7f7f7" stroke="#9a9a9a" stroke-width="2"><rect x="110" y="348" width="85" height="22"/><rect x="112" y="605" width="85" height="22"/><rect x="116" y="958" width="85" height="22"/><rect x="130" y="1613" width="80" height="22"/></g>
<g font-family="Liberation Sans,sans-serif" font-weight="700" font-size="15" fill="#2b3990"><text x="124" y="365">Analytical</text><text x="126" y="622">Analytical</text><text x="130" y="975">Analytical</text><text x="142" y="1630">Analytical</text></g>
<g fill="#3a3a3a"><rect x="462" y="496" width="78" height="16" rx="4"/><rect x="458" y="856" width="78" height="16" rx="4"/><rect x="448" y="1498" width="75" height="14" rx="4"/><rect x="455" y="1825" width="75" height="14" rx="4"/></g>
</g>
<g transform="translate(1215,1060) scale(0.220518)">
<defs>
<linearGradient id="gc1" x1="0" y1="0" x2="1" y2="0"><stop offset="0" stop-color="#d9dce3"/><stop offset=".2" stop-color="#f3f4f8"/><stop offset=".8" stop-color="#f3f4f8"/><stop offset="1" stop-color="#d5d8df"/></linearGradient>
<linearGradient id="gc2" x1="0" y1="0" x2="1" y2="0"><stop offset="0" stop-color="#cfcfcf"/><stop offset=".5" stop-color="#e8e8e8"/><stop offset="1" stop-color="#d2d2d2"/></linearGradient>
</defs>
<!-- base -->
<rect x="130" y="1745" width="782" height="58" rx="18" fill="#dedede"/>
<circle cx="865" cy="1765" r="9" fill="#555"/><circle cx="842" cy="1765" r="6" fill="#555"/>
<!-- main body -->
<rect x="268" y="1008" width="672" height="750" fill="#dcdcdc"/>
<rect x="268" y="1125" width="508" height="632" fill="url(#gc2)"/>
<rect x="268" y="1118" width="508" height="8" fill="#9c9c9c"/>
<rect x="776" y="1018" width="164" height="740" fill="#e3e3e3"/>
<rect x="772" y="1018" width="6" height="740" fill="#bdbdbd"/>
<rect x="292" y="1028" width="455" height="20" fill="#f6f6f6"/>
<g stroke="#b4b4b4" stroke-width="4"><path d="M300 1028 V1048 M315 1028 V1048 M330 1028 V1048 M345 1028 V1048 M360 1028 V1048 M375 1028 V1048 M390 1028 V1048 M405 1028 V1048 M420 1028 V1048 M435 1028 V1048 M450 1028 V1048 M465 1028 V1048 M480 1028 V1048 M495 1028 V1048 M510 1028 V1048 M525 1028 V1048 M540 1028 V1048 M555 1028 V1048 M570 1028 V1048 M585 1028 V1048 M600 1028 V1048 M615 1028 V1048 M630 1028 V1048 M645 1028 V1048 M660 1028 V1048 M675 1028 V1048 M690 1028 V1048 M705 1028 V1048 M720 1028 V1048 M735 1028 V1048"/></g>
<g fill="#444"><rect x="832" y="1258" width="52" height="6"/><rect x="836" y="1302" width="26" height="6"/><rect x="834" y="1346" width="40" height="6"/><rect x="834" y="1390" width="40" height="6"/><rect x="834" y="1478" width="52" height="6"/><rect x="834" y="1522" width="52" height="6"/></g>
<!-- orange -->
<path d="M68 1045 L110 1005 L270 1000 L266 1752 L65 1750Z" fill="#f4821e"/>
<path d="M68 1045 L110 1005 L270 1000 L268 1040Z" fill="#e87a1c"/>
<text x="178" y="1083" font-family="Liberation Sans,sans-serif" font-weight="700" font-size="17" fill="#2b3990">Analytical</text>
<circle cx="172" cy="1077" r="5" fill="none" stroke="#2b3990" stroke-width="2"/>
<!-- carousel -->
<rect x="335" y="985" width="250" height="30" rx="10" fill="#e3e5ea"/>
<path d="M195 850 Q200 802 320 796 L545 796 Q625 805 628 850 L625 930 Q600 990 540 1000 L290 1000 Q210 985 198 930Z" fill="#eff1f5"/>
<path d="M198 930 Q210 985 290 1000 L540 1000 Q600 990 625 930 Q560 975 410 975 Q260 975 198 930Z" fill="#dfe2e8"/>
<rect x="388" y="835" width="92" height="152" rx="12" fill="#d4dbe6"/>
<g fill="#3a9ae0"><rect x="402" y="856" width="30" height="32" rx="4"/><rect x="440" y="856" width="30" height="32" rx="4"/><rect x="402" y="898" width="30" height="32" rx="4"/><rect x="440" y="898" width="30" height="32" rx="4"/></g>
<g fill="#f2f4f8"><rect x="402" y="940" width="12" height="8"/><rect x="420" y="940" width="12" height="8"/><rect x="438" y="940" width="12" height="8"/><rect x="456" y="940" width="12" height="8"/><rect x="402" y="958" width="12" height="8"/><rect x="420" y="958" width="12" height="8"/><rect x="438" y="958" width="12" height="8"/><rect x="456" y="958" width="12" height="8"/></g>
<!-- tower -->
<path d="M312 92 L355 42 L500 42 L545 92 L545 792 Q430 832 312 792Z" fill="url(#gc1)"/>
<path d="M355 42 L500 42 L500 100 L355 100Z" fill="#f7f8fa"/>
<path d="M378 420 Q378 385 410 385 L455 385 Q487 385 487 420 L487 772 L378 772Z" fill="#eceef2"/>
<rect x="390" y="392" width="85" height="300" fill="#8e9093"/>
<rect x="408" y="392" width="50" height="85" fill="#b9bcc0"/>
<rect x="400" y="470" width="66" height="35" fill="#77797c"/>
<rect x="418" y="505" width="30" height="95" fill="#c9ccd0"/>
<rect x="398" y="590" width="70" height="22" fill="#6c6e71"/>
<rect x="408" y="690" width="8" height="80" fill="#8e9093"/>
<circle cx="425" cy="487" r="7" fill="#f2f2f2"/><circle cx="447" cy="487" r="7" fill="#f2f2f2"/>
<rect x="402" y="755" width="68" height="20" fill="#e8b820"/>
<g fill="#9a9da2"><rect x="316" y="160" width="8" height="22"/><rect x="533" y="160" width="8" height="22"/><rect x="360" y="470" width="7" height="26"/><rect x="497" y="470" width="7" height="26"/><rect x="360" y="690" width="7" height="26"/><rect x="497" y="690" width="7" height="26"/></g>
</g>
<text class="t" x="702.4" y="140.5" textLength="366.1" lengthAdjust="spacingAndGlyphs">LCMS/GCMS/ICPMS/</text>
<text class="t" x="828.5" y="193.5" textLength="112.5" lengthAdjust="spacingAndGlyphs">MSMS</text>
<text class="t" x="376.0" y="429.0" textLength="278.0" lengthAdjust="spacingAndGlyphs">TOC ANALYZER</text>
<text class="t" x="131.5" y="856.5" textLength="82.5" lengthAdjust="spacingAndGlyphs">XRD</text>
<text class="t" x="1270.0" y="170.0" textLength="247.5" lengthAdjust="spacingAndGlyphs">PREPARATIVE</text>
<text class="t" x="1342.5" y="222.5" textLength="94.0" lengthAdjust="spacingAndGlyphs">HPLC</text>
<text class="t" x="1760.0" y="362.5" textLength="249.0" lengthAdjust="spacingAndGlyphs">PRODUCTION</text>
<text class="t" x="1800.5" y="416.0" textLength="167.5" lengthAdjust="spacingAndGlyphs">PROCESS</text>
<text class="t" x="1760.0" y="469.0" textLength="249.0" lengthAdjust="spacingAndGlyphs">HPLC SYSTEM</text>
<text class="t" x="1958.6" y="848.0" textLength="456.6" lengthAdjust="spacingAndGlyphs">SPECTROSCOPY/RAMAN/</text>
<text class="t" x="1904.0" y="900.4" textLength="570.0" lengthAdjust="spacingAndGlyphs">UV-VIS/ NIR/COLOUR SPECTRO/</text>
<text class="t" x="2036.5" y="953.0" textLength="302.5" lengthAdjust="spacingAndGlyphs">THZ /LIBS/ MSLD</text>
<text class="t" x="164.0" y="1610.0" textLength="126.0" lengthAdjust="spacingAndGlyphs">WATER</text>
<text class="t" x="96.0" y="1663.5" textLength="260.0" lengthAdjust="spacingAndGlyphs">PURIFICATION</text>
<text class="t" x="154.0" y="1716.0" textLength="145.0" lengthAdjust="spacingAndGlyphs">SYSTEM</text>
<text class="t" x="445.0" y="2074.0" textLength="135.0" lengthAdjust="spacingAndGlyphs">HPTLC /</text>
<text class="t" x="428.5" y="2126.5" textLength="172.5" lengthAdjust="spacingAndGlyphs">HPTLCMS</text>
<text class="t" x="787.5" y="2278.5" textLength="260.0" lengthAdjust="spacingAndGlyphs">PARTICLE SIZE</text>
<text class="t" x="821.0" y="2330.5" textLength="194.0" lengthAdjust="spacingAndGlyphs">ANALYZER</text>
<text class="t" x="1355.0" y="2246.5" textLength="142.5" lengthAdjust="spacingAndGlyphs">ATOMIC</text>
<text class="t" x="1302.5" y="2299.5" textLength="240.0" lengthAdjust="spacingAndGlyphs">ABSORPTION</text>
<text class="t" x="1292.5" y="2351.5" textLength="265.0" lengthAdjust="spacingAndGlyphs">SPECROSCOPY</text>
<text class="t" x="2140.0" y="1669.5" textLength="198.0" lengthAdjust="spacingAndGlyphs">SCANNING</text>
<text class="t" x="2144.0" y="1722.0" textLength="191.0" lengthAdjust="spacingAndGlyphs">ELECTRON</text>
<text class="t" x="2121.5" y="1775.5" textLength="243.5" lengthAdjust="spacingAndGlyphs">MICROSCOPE</text>
<text class="t" x="1775.5" y="2070.5" textLength="201.0" lengthAdjust="spacingAndGlyphs">INFRA FTIR</text>
<text class="t" x="1721.5" y="2123.0" textLength="315.0" lengthAdjust="spacingAndGlyphs">SPECTROMETERS</text>
<text class="w" x="908.5" y="1529.0" font-size="31.4" textLength="254.0" lengthAdjust="spacingAndGlyphs">iUHPLC / HPLC 3000</text>
<text class="w" x="1292.0" y="1487.5" font-size="28.4" textLength="46.5" lengthAdjust="spacingAndGlyphs">GAS</text>
<text class="w" x="1198.0" y="1522.7" font-size="28.4" textLength="238.5" lengthAdjust="spacingAndGlyphs">CHROMOTOGRAPHY</text>
</svg></body></html>
